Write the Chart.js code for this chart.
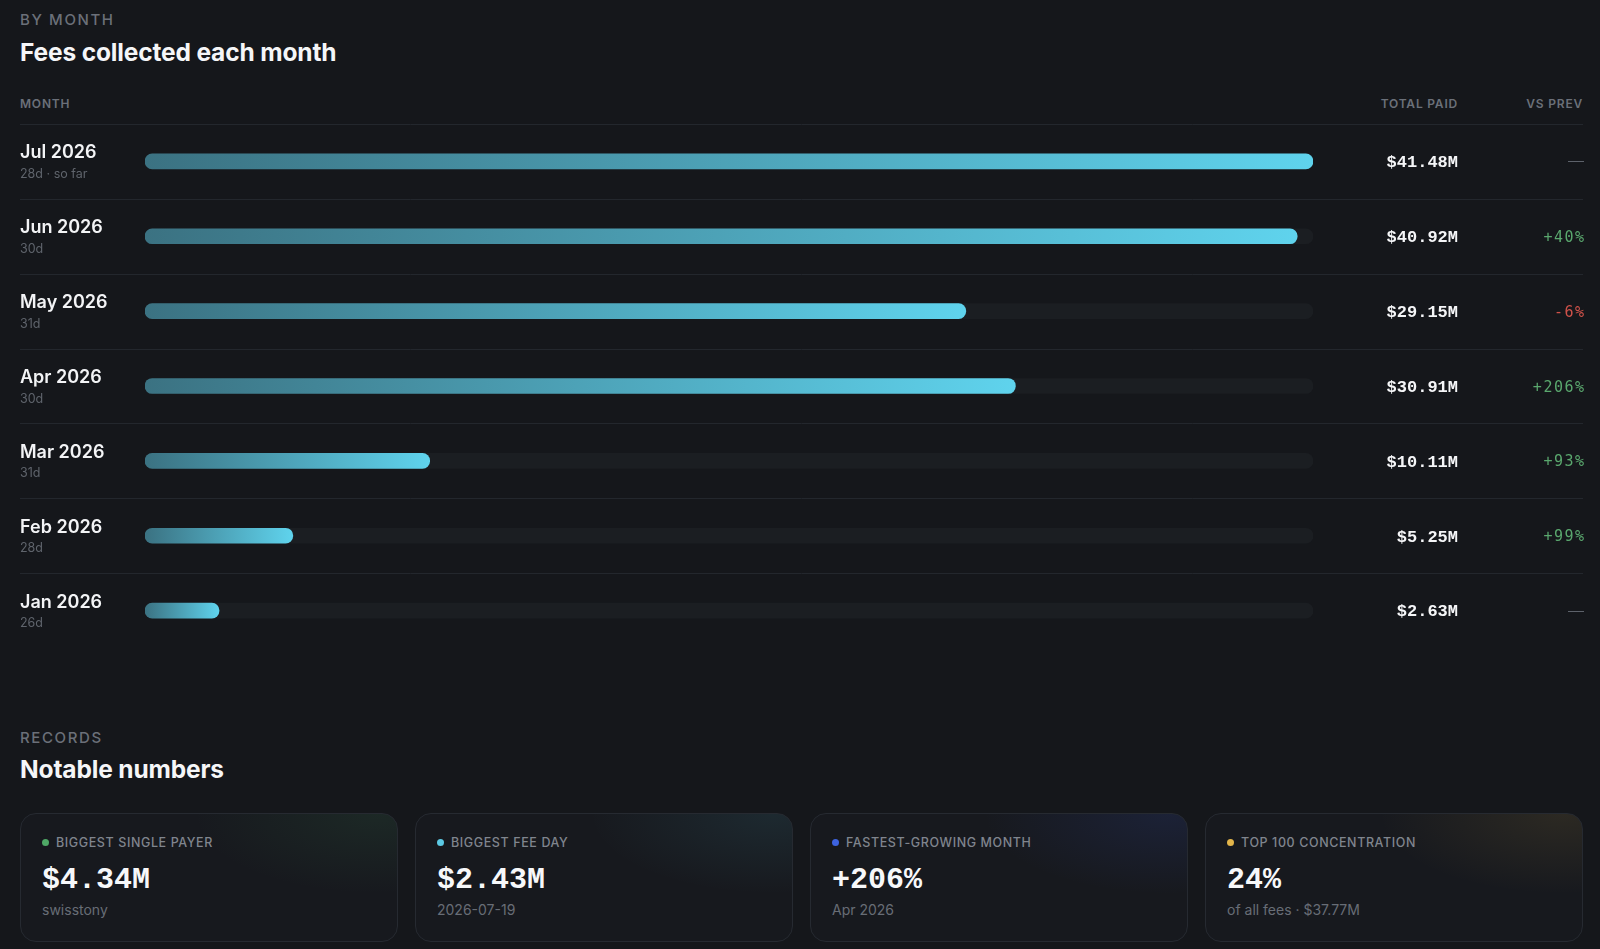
<!DOCTYPE html>
<html>
<head>
<meta charset="utf-8">
<script src="https://cdn.jsdelivr.net/npm/chart.js@4.4.1/dist/chart.umd.min.js"></script>
<style>
  html, body { margin: 0; padding: 0; background: #15171b; overflow: hidden; }
  body { width: 1600px; height: 949px; position: relative; font-family: Inter, "Noto Sans", sans-serif; color: #f3f4f6; }
  .abs { position: absolute; line-height: 1; white-space: nowrap; }
  .eyebrow { font-size: 15px; font-weight: 500; letter-spacing: 1.6px; color: #6b7079; }
  .title { font-size: 24.5px; font-weight: 700; letter-spacing: -0.15px; color: #f5f6f8; }
  .colhead { font-size: 12px; font-weight: 600; letter-spacing: 0.8px; color: #6b7079; }
  #chartBox { position: absolute; left: 0; top: 114px; width: 1600px; height: 540px; }
  .card { position: absolute; top: 813px; width: 378px; height: 129px; border: 1px solid #262a31; border-radius: 16px; box-sizing: border-box;
          background: radial-gradient(ellipse 70% 90% at 95% 0%, var(--tint), rgba(0,0,0,0) 70%), #17191e; }
  .card .lab { position: absolute; left: 21px; top: 23px; font-size: 12.5px; font-weight: 500; letter-spacing: 0.6px; color: #80858e; line-height: 1; }
  .card .dot { display: inline-block; width: 7px; height: 7px; border-radius: 50%; margin-right: 7px; vertical-align: 1px; }
  .card .val { position: absolute; left: 21px; top: 51px; font-family: "Liberation Mono", "DejaVu Sans Mono", monospace; font-weight: 700; font-size: 30px; color: #f7f8fa; line-height: 1; }
  .card .sub { position: absolute; left: 21px; top: 89px; font-size: 14px; color: #686d76; line-height: 1; }
</style>
</head>
<body>
<div class="abs eyebrow" style="left:20px; top:12px;">BY MONTH</div>
<div class="abs title" style="left:20px; top:40px;">Fees collected each month</div>
<div class="abs colhead" style="left:20px; top:98px;">MONTH</div>
<div class="abs colhead" style="right:142px; top:98px;">TOTAL PAID</div>
<div class="abs colhead" style="right:17px; top:98px;">VS PREV</div>

<div id="chartBox"><canvas id="feesChart"></canvas></div>

<div class="abs eyebrow" style="left:20px; top:730px;">RECORDS</div>
<div class="abs title" style="left:20px; top:757px;">Notable numbers</div>

<div class="card" style="left:20px; --tint: rgba(76,175,106,0.10);">
  <div class="lab"><span class="dot" style="background:#4fa866;"></span>BIGGEST SINGLE PAYER</div>
  <div class="val">$4.34M</div>
  <div class="sub">swisstony</div>
</div>
<div class="card" style="left:415px; --tint: rgba(92,207,230,0.09);">
  <div class="lab"><span class="dot" style="background:#5cc9e4;"></span>BIGGEST FEE DAY</div>
  <div class="val">$2.43M</div>
  <div class="sub">2026-07-19</div>
</div>
<div class="card" style="left:810px; --tint: rgba(59,91,219,0.13);">
  <div class="lab"><span class="dot" style="background:#3d63e0;"></span>FASTEST-GROWING MONTH</div>
  <div class="val">+206%</div>
  <div class="sub">Apr 2026</div>
</div>
<div class="card" style="left:1205px; --tint: rgba(229,184,76,0.10);">
  <div class="lab"><span class="dot" style="background:#e3b54a;"></span>TOP 100 CONCENTRATION</div>
  <div class="val">24%</div>
  <div class="sub">of all fees · $37.77M</div>
</div>

<script>
// monthly fee totals, in $M
const months = ["Jul 2026", "Jun 2026", "May 2026", "Apr 2026", "Mar 2026", "Feb 2026", "Jan 2026"];
const dayNotes = ["28d · so far", "30d", "31d", "30d", "31d", "28d", "26d"];
const feesPaid = [41.48, 40.92, 29.15, 30.91, 10.11, 5.25, 2.63];
const totalLabels = ["$41.48M", "$40.92M", "$29.15M", "$30.91M", "$10.11M", "$5.25M", "$2.63M"];
const vsPrev = ["—", "+40%", "-6%", "+206%", "+93%", "+99%", "—"];
const trackMax = 41.48;
const trackValues = months.map(() => trackMax);

function vsColor(s) {
  if (s.startsWith('+')) return '#5aa86e';
  if (s.startsWith('-')) return '#d0524a';
  return '#5d626b';
}

const rowText = {
  id: 'rowText',
  beforeDatasetsDraw(chart) {
    const ctx = chart.ctx, y = chart.scales.y;
    const half = (y.getPixelForValue(1) - y.getPixelForValue(0)) / 2;
    ctx.save();
    ctx.strokeStyle = '#23272d';
    ctx.lineWidth = 1;
    months.forEach((m, i) => {
      const top = Math.round(y.getPixelForValue(i) - half) + 0.5;
      ctx.beginPath();
      ctx.moveTo(20, top);
      ctx.lineTo(1583, top);
      ctx.stroke();
    });
    ctx.restore();
  },
  afterDatasetsDraw(chart) {
    const ctx = chart.ctx, y = chart.scales.y;
    ctx.save();
    ctx.textBaseline = 'alphabetic';
    months.forEach((m, i) => {
      const cy = y.getPixelForValue(i);
      ctx.textAlign = 'left';
      ctx.fillStyle = '#f3f4f6';
      ctx.font = '600 18px Inter';
      ctx.fillText(m, 20, cy - 3);
      ctx.fillStyle = '#5f646c';
      ctx.font = '400 12.5px Inter';
      ctx.fillText(dayNotes[i], 20, cy + 16.5);

      ctx.textAlign = 'right';
      ctx.fillStyle = '#f5f6f8';
      ctx.font = '700 17px "Liberation Mono"';
      ctx.fillText(totalLabels[i], 1458, cy + 5.8);

      ctx.fillStyle = vsColor(vsPrev[i]);
      if (vsPrev[i] === '—') {
        ctx.font = '300 16px Inter';
        ctx.fillText(vsPrev[i], 1584, cy + 5);
      } else {
        ctx.font = '400 15px "DejaVu Sans Mono"';
        ctx.letterSpacing = '1.5px';
        ctx.fillText(vsPrev[i], 1585.5, cy + 5.5);
        ctx.letterSpacing = '0px';
      }
    });
    ctx.restore();
  }
};

new Chart(document.getElementById("feesChart"), {
  type: 'bar',
  data: {
    labels: months,
    datasets: [{
      label: "Fees",
      data: feesPaid,
      order: 1,
      barThickness: 15,
      borderRadius: 8,
      borderSkipped: false,
      backgroundColor(c) {
        const chart = c.chart;
        if (!chart.chartArea || c.type !== 'data') return '#4fb3cc';
        const x = chart.scales.x;
        const g = chart.ctx.createLinearGradient(x.getPixelForValue(0), 0, x.getPixelForValue(c.raw), 0);
        g.addColorStop(0, '#3b7282');
        g.addColorStop(1, '#5fd3ed');
        return g;
      }
    }, {
      label: "Track",
      data: trackValues,
      order: 2,
      barThickness: 15,
      borderRadius: 8,
      borderSkipped: false,
      backgroundColor: '#1b1e22'
    }]
  },
  options: {
    indexAxis: 'y',
    responsive: true,
    maintainAspectRatio: false,
    animation: false,
    events: [],
    layout: { padding: { left: 145, right: 287, top: 10, bottom: 6 } },
    datasets: { bar: { grouped: false } },
    scales: {
      x: { display: false, min: 0, max: trackMax },
      y: { display: false }
    },
    plugins: {
      legend: { display: false },
      tooltip: { enabled: false }
    }
  },
  plugins: [rowText]
});
</script>
</body>
</html>
